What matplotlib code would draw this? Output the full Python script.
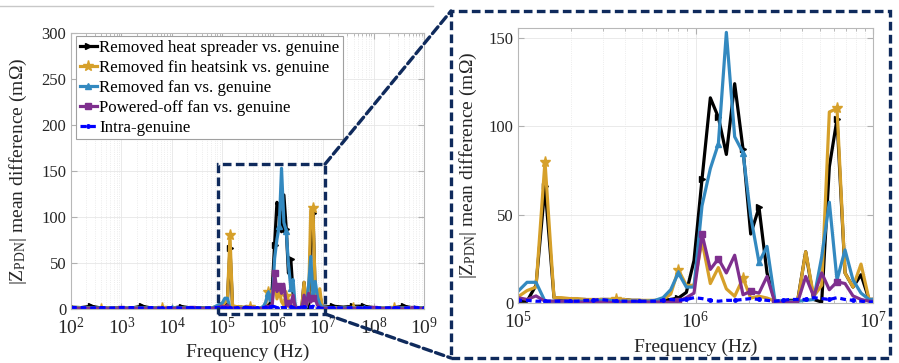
import matplotlib
matplotlib.use('Agg')
import numpy as np
import matplotlib.pyplot as plt
from matplotlib.patches import Rectangle, ConnectionPatch
from matplotlib.lines import Line2D
from matplotlib.ticker import LogLocator

plt.rcParams['font.family'] = ['Liberation Serif', 'DejaVu Serif']
plt.rcParams['mathtext.fontset'] = 'custom'
plt.rcParams['mathtext.rm'] = 'Liberation Serif'
plt.rcParams['mathtext.it'] = 'Liberation Serif:italic'
plt.rcParams['mathtext.bf'] = 'Liberation Serif:bold'

# ---- data (Hz, mOhm) ----
freq_low = [1.00e2, 1.58e2, 2.51e2, 3.98e2, 6.31e2, 1.00e3, 1.58e3, 2.51e3, 3.98e3, 6.31e3,
            1.00e4, 1.58e4, 2.51e4, 3.98e4, 6.31e4]
freq_zoom = [1.000e5, 1.124e5, 1.263e5, 1.419e5, 1.595e5, 1.762e5, 1.955e5, 2.160e5, 2.385e5,
             2.646e5, 2.922e5, 3.228e5, 3.581e5, 3.956e5, 4.369e5, 4.826e5, 5.354e5, 5.913e5,
             6.560e5, 7.246e5, 8.004e5, 8.880e5, 9.806e5, 1.088e6, 1.212e6, 1.345e6, 1.492e6,
             1.662e6, 1.852e6, 2.046e6, 2.279e6, 2.528e6, 2.805e6, 3.112e6, 3.393e6, 3.764e6,
             4.176e6, 4.632e6, 5.138e6, 5.675e6, 6.269e6, 6.955e6, 7.714e6, 8.558e6, 9.495e6]
freq_high = [1.58e7, 2.51e7, 3.98e7, 6.31e7, 1.00e8, 1.58e8, 2.51e8, 3.98e8, 6.31e8, 1.00e9]
freq = freq_low + freq_zoom + freq_high

heat_spreader = ([2, 1.5, 3, 1, 1, 1.5, 1, 3, 1, 1.5, 1, 2.5, 1, 1.5, 1] +
                 [1, 1, 10, 66, 3, 2.5, 2, 2, 2, 1.5, 2, 2, 1.5, 2, 1.5, 1.5, 1, 1, 1.5, 2, 2.8,
                  6, 24, 70, 116, 105, 84, 124, 87, 39, 54, 17, 1, 1, 1.5, 1.5, 29, 2, 0.5, 77,
                  104, 17, 9, 16, 2] +
                 [3, 2, 3, 3, 1.5, 1, 1.5, 3, 1, 1.5])
fin_heatsink = ([1, 1.5, 1, 0.5, 1, 1, 1.5, 1, 1, 1, 1.5, 1, 1, 1, 1.5] +
                [3.5, 7, 9, 80, 3, 3, 2.5, 2.5, 2, 2, 2, 2, 2.5, 2, 1.5, 1.5, 1.5, 1.5, 2, 5, 18.8,
                 10, 10, 35, 11, 20, 8, 3.8, 14, 2.8, 3.8, 2.8, 1, 0.5, 0.5, 1, 29, 3.8, 10, 108,
                 110, 17, 9, 22, 2] +
                [1.5, 1, 1.5, 1, 1, 1.5, 1, 1, 1.5, 1])
removed_fan = ([1, 1, 1, 1, 0.5, 1, 1, 1, 1, 0.5, 1, 1, 1, 1, 1] +
               [6.6, 11.7, 11.7, 1, 1, 1, 1, 1, 1, 1, 1.5, 1.5, 1, 1, 1, 1, 1, 1.5, 3, 7.5, 17,
                9, 9, 55, 76, 90, 153, 94, 85, 49, 23, 32, 1, 1, 1, 1, 1.5, 2, 26, 57, 13, 30,
                13, 5.6, 2] +
               [1, 1, 1, 1, 1, 1, 1, 1, 1, 1])
powered_off_fan = ([0.5, 0.5, 0.5, 0.5, 0, 0, 0.5, 0.5, 0, 0.5, 0.5, 0.5, 0, 0.5, 0.5] +
                   [3, 2, 4, 1, 1, 1, 1, 0.5, 0.5, 0.5, 0.5, 0.5, 0, 0.5, 0.5, 0.5, 0.5, 0.5,
                    0.5, 0.5, 1, 3, 5.6, 39, 19, 25, 17, 27, 4.7, 6.6, 5.6, 15, 0, 0.5, 0.5, 0.5,
                    15, 3.8, 17, 7.5, 12, 11, 4, 2, 1] +
                   [0.5, 0, 0.5, 0.5, 0, 0.5, 0.5, 0, 0.5, 0.5])
intra_genuine = ([1.5, 1.5, 1, 1.5, 1, 1.5, 1.5, 1, 1.5, 1, 1.5, 1, 1.5, 1, 1.5] +
                 [1.5, 1.5, 1, 1, 1, 1, 1, 1, 1.5, 1.5, 2, 1.5, 1, 1, 1, 1, 1, 1, 1.5, 2, 1.5, 2,
                  3, 2.5, 1.5, 1, 1.5, 1.5, 2, 2.5, 2, 1.5, 1, 1.5, 2, 2, 2, 3, 2.5, 2, 3, 2, 1.5,
                  1, 0.5] +
                 [1.5, 1, 1.5, 1, 1.5, 1, 1.5, 1, 1.5, 1])

labels = ['Removed heat spreader vs. genuine', 'Removed fin heatsink vs. genuine',
          'Removed fan vs. genuine', 'Powered-off fan vs. genuine', 'Intra-genuine']

# styles
NAVY = '#0F2A5C'
series = [
    (heat_spreader, dict(color='black', marker='>', ms=5, ls='-',
                         markevery=[0, 2, 7, 11, 18, 35, 38, 40, 43, 45, 55, 60, 62, 63, 67])),
    (fin_heatsink, dict(color='#D6A02A', marker='*', ms=8, ls='-',
                        markevery=[3, 9, 18, 27, 35, 43, 55, 62, 66])),
    (removed_fan, dict(color='#3389C0', marker='^', ms=5, ls='-',
                       markevery=[4, 10, 35, 40, 43, 45, 63, 68])),
    (powered_off_fan, dict(color='#7E2F8E', marker='s', ms=4.5, ls='-',
                           markevery=[5, 12, 27, 35, 38, 40, 44, 47, 55, 64, 68])),
    (intra_genuine, dict(color='#0000FF', marker='.', ms=5, ls=(0, (1.8, 1.2)),
                         markevery=list(range(0, 70, 3)))),
]

fig = plt.figure(figsize=(8.99, 3.63), dpi=100)
axL = fig.add_axes([0.079, 0.1488, 0.3927, 0.760])
axR = fig.add_axes([0.5762, 0.1653, 0.3949, 0.7576])

ylabel = r'$|\mathrm{Z}_{\mathrm{PDN}}|$ mean difference (m$\Omega$)'

for ax in (axL, axR):
    for (vals, st), lab in zip(series, labels):
        ax.plot(freq, vals, lw=2.3, label=lab, **st)
    ax.set_xscale('log')
    ax.xaxis.set_minor_locator(LogLocator(base=10, subs=np.arange(2, 10), numticks=100))
    ax.grid(which='major', color='#e6e6e6', lw=0.6)
    ax.grid(which='minor', axis='x', color='#e6e6e6', ls=':', lw=0.6)
    ax.set_axisbelow(True)
    ax.tick_params(which='both', direction='in', top=True, right=True,
                   colors='#b0b0b0', labelcolor='#262626', labelsize=12)
    ax.tick_params(axis='x', which='major', labelsize=14, pad=5.5)
    ax.tick_params(which='major', length=4)
    ax.tick_params(which='minor', length=2.5)
    for sp in ax.spines.values():
        sp.set_color('#b8b8b8')
        sp.set_linewidth(0.8)
    ax.set_xlabel('Frequency (Hz)', fontsize=14, color='#262626')
    ax.set_ylabel(ylabel, fontsize=14, color='#262626')

axL.set_xlim(1e2, 1e9)
axL.set_xticks([1e2, 1e3, 1e4, 1e5, 1e6, 1e7, 1e8, 1e9])
axL.set_ylim(0, 300)
axL.set_yticks([0, 50, 100, 150, 200, 250, 300])
axL.yaxis.set_label_coords(-0.118, 0.5)
axL.xaxis.set_label_coords(0.5, -0.125)

axR.set_xlim(1e5, 1e7)
axR.set_xticks([1e5, 1e6, 1e7])
axR.set_ylim(0, 155.5)
axR.set_yticks([0, 50, 100, 150])
axR.yaxis.set_label_coords(-0.11, 0.5)
axR.xaxis.set_label_coords(0.5, -0.128)

leg = axL.legend(loc='upper left', bbox_to_anchor=(0.015, 0.988), borderaxespad=0,
                 fontsize=12.2, handlelength=1.0, handletextpad=0.15, labelspacing=0.24,
                 borderpad=0.2, fancybox=False, framealpha=1, edgecolor='#a0a0a0')
leg.get_frame().set_linewidth(0.8)

# zoom box on the left axes
dash = (0, (2.6, 1.3))
x0, x1, y0, y1 = 8.2e4, 1.09e7, -5.4, 157.6
axL.add_patch(Rectangle((x0, y0), x1 - x0, y1 - y0, fill=False, ec=NAVY, lw=2.4,
                        ls=dash, clip_on=False, zorder=10))

W, H = 899.0, 363.0
bx0, by0, bx1, by1 = 451 / W, 1 - 358 / H, 890 / W, 1 - 11 / H
fig.add_artist(Rectangle((bx0, by0), bx1 - bx0, by1 - by0, transform=fig.transFigure,
                         fill=False, ec=NAVY, lw=2.4, ls=dash))
for ya, yb in ((y1, by1), (y0, by0)):
    fig.add_artist(ConnectionPatch(xyA=(x1, ya), coordsA=axL.transData,
                                   xyB=(bx0, yb), coordsB=fig.transFigure,
                                   color=NAVY, lw=2.4, ls=dash))

fig.add_artist(Line2D([0, 433 / W], [1 - 6 / H, 1 - 6 / H], transform=fig.transFigure,
                      color='#c8c8c8', lw=1))

fig.savefig('out.png', dpi=100, facecolor='white')
